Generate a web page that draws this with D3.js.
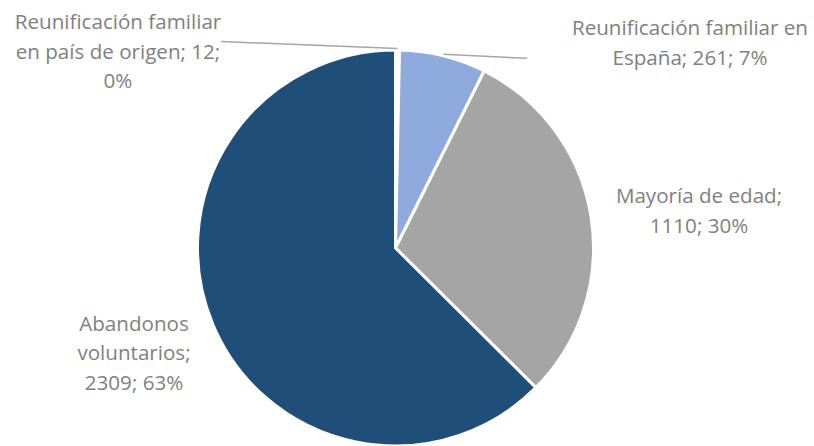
<!DOCTYPE html>
<html>
<head>
<meta charset="utf-8">
<script src="https://cdn.jsdelivr.net/npm/d3@7"></script>
<style>
  html, body { margin: 0; padding: 0; background: #ffffff; }
  svg { display: block; }
  .slice-label { font-family: "Open Sans", "Noto Sans", sans-serif; font-size: 20.6px; fill: #7f7f7f; }
</style>
</head>
<body>
<svg id="chart" width="814" height="446"></svg>
<script>
// Motivos de baja: categorías y número de casos
const categories = [
  "Reunificación familiar en país de origen",
  "Reunificación familiar en España",
  "Mayoría de edad",
  "Abandonos voluntarios"
];
const values = [12, 261, 1110, 2309];
const colors = ["#ffffff", "#8faadc", "#a5a5a5", "#1f4e79"];

// Palabras por línea en cada etiqueta ("Categoría; valor; porcentaje")
const wordsPerLine = [[2, 5, 1], [3, 3], [3, 2], [1, 1, 2]];

// Posición de cada etiqueta (centro del texto, línea base de la primera línea)
const labelPos = [
  { x: 118, y: 29 },
  { x: 690, y: 35 },
  { x: 699, y: 203 },
  { x: 134, y: 330.5 }
];
// Extremo exterior de las líneas guía (solo las dos porciones pequeñas)
const leaderEnds = [
  { x: 221, y: 41.5 },
  { x: 527, y: 58.3 },
  null,
  null
];

const W = 814, H = 446;
const cx = 395.5, cy = 248, radius = 198;
const lineGap = 29.5;

const svg = d3.select("#chart");
const total = d3.sum(values);
const fmtPct = d3.format(".0%");

const data = categories.map((c, i) => ({ category: c, value: values[i], index: i }));

const pie = d3.pie().value(d => d.value).sort(null);
const arcs = pie(data);
const arc = d3.arc().innerRadius(0).outerRadius(radius);

const g = svg.append("g").attr("transform", `translate(${cx},${cy})`);

g.selectAll("path.slice")
  .data(arcs)
  .join("path")
  .attr("class", "slice")
  .attr("d", arc)
  .attr("fill", d => colors[d.index])
  .attr("stroke", "#ffffff")
  .attr("stroke-width", 3)
  .attr("stroke-linejoin", "round");

// Líneas guía desde el punto medio del arco hasta la etiqueta
arcs.forEach(d => {
  const end = leaderEnds[d.index];
  if (!end) return;
  const mid = (d.startAngle + d.endAngle) / 2;
  const r = radius + 1.5;
  const px = cx + r * Math.sin(mid);
  const py = cy - r * Math.cos(mid);
  svg.append("line")
    .attr("x1", px).attr("y1", py)
    .attr("x2", end.x).attr("y2", end.y)
    .attr("stroke", "#a6a6a6")
    .attr("stroke-width", 1.5);
});

// Etiquetas: categoría; valor; porcentaje
arcs.forEach(d => {
  const i = d.index;
  const text = `${categories[i]}; ${values[i]}; ${fmtPct(values[i] / total)}`;
  const words = text.split(" ");
  const lines = [];
  let k = 0;
  wordsPerLine[i].forEach(n => {
    lines.push(words.slice(k, k + n).join(" "));
    k += n;
  });
  const t = svg.append("text")
    .attr("class", "slice-label")
    .attr("text-anchor", "middle")
    .attr("x", labelPos[i].x)
    .attr("y", labelPos[i].y);
  lines.forEach((ln, j) => {
    t.append("tspan")
      .attr("x", labelPos[i].x)
      .attr("y", labelPos[i].y + j * lineGap)
      .text(ln);
  });
});
</script>
</body>
</html>
